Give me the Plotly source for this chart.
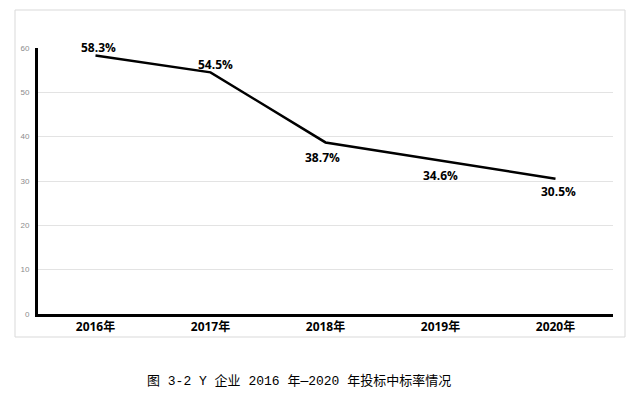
import plotly.graph_objects as go

years = ["2016年", "2017年", "2018年", "2019年", "2020年"]
rates = [58.3, 54.5, 38.7, 34.6, 30.5]
labels = ["58.3%", "54.5%", "38.7%", "34.6%", "30.5%"]
yticks = [0, 10, 20, 30, 40, 50, 60]
caption = "图 3-2 Y 企业 2016 年—2020 年投标中标率情况"

# label offsets (pixels) relative to each point
label_dx = [3, 5, -3, 0, 3]
label_dy = [8, 8, -15, -15, -13]

W, H = 643, 395
L, R, T, B = 38, 30, 48, 81
pw, ph = W - L - R, H - T - B

fig = go.Figure()
fig.add_trace(go.Scatter(
    x=years, y=rates, mode="lines",
    line=dict(color="black", width=2.5),
    showlegend=False, hoverinfo="skip",
))

annos = []
for xv, yv, t, dx, dy in zip(years, rates, labels, label_dx, label_dy):
    annos.append(dict(
        x=xv, y=yv, xref="x", yref="y", text=t, showarrow=False,
        xshift=dx, yshift=dy, xanchor="center", yanchor="middle",
        font=dict(family="Open Sans, Liberation Sans, sans-serif", size=12, color="black", weight="bold"),
    ))
annos.append(dict(
    text=caption, xref="paper", yref="paper",
    x=(299 - L) / pw, y=(T + ph - 381) / ph, xanchor="center", yanchor="middle",
    showarrow=False,
    font=dict(family="Liberation Mono, Noto Sans CJK SC, monospace", size=13, color="black"),
))

fig.update_layout(
    width=W, height=H,
    margin=dict(l=L, r=R, t=T, b=B),
    paper_bgcolor="white", plot_bgcolor="white",
    xaxis=dict(
        range=[-0.5, 4.5], showgrid=False, showline=True, linecolor="black", linewidth=3,
        ticks="", tickfont=dict(family="Open Sans, Liberation Sans, Noto Sans CJK SC, sans-serif",
                                size=12, color="black", weight="bold"),
        fixedrange=True,
    ),
    yaxis=dict(
        range=[0, 60], tickvals=yticks, showgrid=True, gridcolor="#e3e3e3", gridwidth=1,
        showline=True, linecolor="black", linewidth=3, zeroline=False, ticks="",
        tickfont=dict(family="Liberation Sans, sans-serif", size=8, color="#8c8c8c"),
        ticklabelstandoff=4, fixedrange=True,
    ),
    shapes=[dict(
        type="rect", xref="paper", yref="paper",
        x0=(15 - L) / pw, x1=(625 - L) / pw,
        y0=(T + ph - 337) / ph, y1=(T + ph - 10) / ph,
        line=dict(color="#d9d9d9", width=1), fillcolor="rgba(0,0,0,0)", layer="below",
    )],
    annotations=annos,
)

fig.write_html(
    "out.html",
    config={"displayModeBar": False, "staticPlot": True},
    post_script="document.body.style.margin='0';document.body.style.overflow='hidden';",
)
